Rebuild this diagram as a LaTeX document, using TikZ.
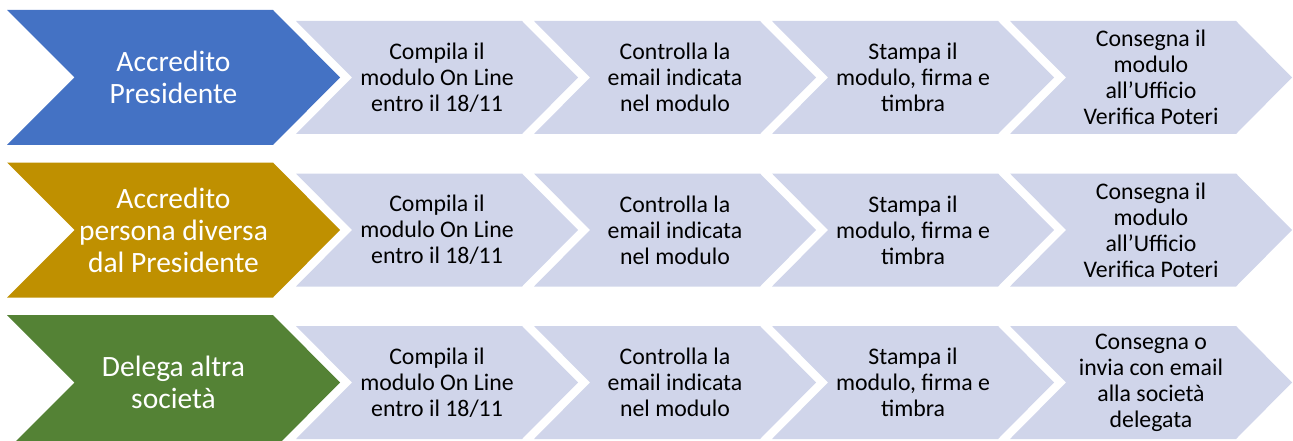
\documentclass[tikz,border=0pt]{standalone}
\usepackage{fontspec}
\setmainfont{Carlito}
\definecolor{cblue}{HTML}{4472C4}
\definecolor{cgold}{HTML}{BF9000}
\definecolor{cgreen}{HTML}{548235}
\definecolor{clight}{HTML}{D0D5EA}
\tikzset{
  bigtext/.style={inner sep=0pt, align=center, text=white, font=\fontsize{29.5}{32}\selectfont},
  smalltext/.style={inner sep=0pt, align=center, text=black, font=\fontsize{23.8}{26}\selectfont},
}
% big chevron: #1 = centre y, #2 = colour
\newcommand\mybigchev[2]{%
  \fill[#2] (7,#1-67.5) -- (273,#1-67.5) -- (340,#1) -- (273,#1+67.5) -- (7,#1+67.5) -- (74.5,#1) -- cycle;}
% light chevron: #1 = left x, #2 = centre y
\newcommand\mysmallchev[2]{%
  \fill[clight] (#1,#2-56.5) -- (#1+226,#2-56.5) -- (#1+282,#2) -- (#1+226,#2+56.5) -- (#1,#2+56.5) -- (#1+56,#2) -- cycle;}
\begin{document}
\begin{tikzpicture}[x=1pt,y=-1pt]
\useasboundingbox (0,0) rectangle (1293,441);
\begin{scope}
\clip (0,0) rectangle (1293,441);
\mybigchev{77.5}{cblue}
\mybigchev{230}{cgold}
\mybigchev{382.5}{cgreen}
\foreach \yc in {77.5,230,382.5}{
  \foreach \lx in {296,534,772,1010}{
    \mysmallchev{\lx}{\yc}
  }
}
\end{scope}
% row 1
\node[bigtext] (h1) at (173.5,77.5) {Accredito\\Presidente};
\node[smalltext] (a1) at (437,77.5) {Compila il\\modulo On Line\\entro il 18/11};
\node[smalltext] (b1) at (675,77.5) {Controlla la\\email indicata\\nel modulo};
\node[smalltext] (c1) at (913,77.5) {Stampa il\\modulo, firma e\\timbra};
\node[smalltext] (d1) at (1151,77.5) {Consegna il\\modulo\\all’Ufficio\\Verifica Poteri};
% row 2
\node[bigtext] (h2) at (173.5,230) {Accredito\\persona diversa\\dal Presidente};
\node[smalltext] (a2) at (437,230) {Compila il\\modulo On Line\\entro il 18/11};
\node[smalltext] (b2) at (675,230) {Controlla la\\email indicata\\nel modulo};
\node[smalltext] (c2) at (913,230) {Stampa il\\modulo, firma e\\timbra};
\node[smalltext] (d2) at (1151,230) {Consegna il\\modulo\\all’Ufficio\\Verifica Poteri};
% row 3
\node[bigtext] (h3) at (173.5,382.5) {Delega altra\\società};
\node[smalltext] (a3) at (437,382.5) {Compila il\\modulo On Line\\entro il 18/11};
\node[smalltext] (b3) at (675,382.5) {Controlla la\\email indicata\\nel modulo};
\node[smalltext] (c3) at (913,382.5) {Stampa il\\modulo, firma e\\timbra};
\node[smalltext] (d3) at (1151,382.5) {Consegna o\\invia con email\\alla società\\delegata};
\end{tikzpicture}
\end{document}
